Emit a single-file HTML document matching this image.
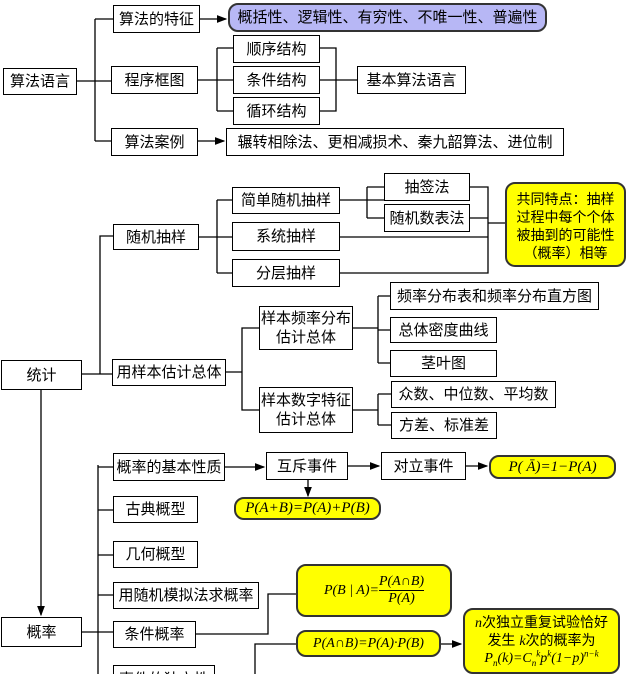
<!DOCTYPE html>
<html><head><meta charset="utf-8"><style>
html,body{margin:0;width:638px;height:674px;overflow:hidden;}
body{background:#fff;position:relative;font-family:"Liberation Sans","Noto Sans CJK SC",sans-serif;}
.b{position:absolute;box-sizing:border-box;border:1.5px solid #000;background:#fff;display:flex;align-items:center;justify-content:center;text-align:center;font-size:15px;line-height:19px;color:#000;}
.y{background:#ffff00;border:2px solid #333;border-radius:10px;font-family:"Liberation Serif","Noto Sans CJK SC",serif;font-style:italic;}
.n{font-style:normal;font-family:"Liberation Sans","Noto Sans CJK SC",sans-serif;}
.p{background:#b7b7f5;border:2px solid #333;border-radius:10px;}
svg{position:absolute;left:0;top:0;}
</style></head><body>
<svg width="638" height="674" stroke="#000" stroke-width="1.3" fill="none">
<defs><marker id="a" markerWidth="8" markerHeight="8" refX="7" refY="4" orient="auto"><path d="M0,1 L8,4 L0,7z" fill="#000" stroke="none"/></marker></defs>
<path d="M77 81H111M95 19V141M95 19H113M95 141H111"/>
<path d="M200 19H226" marker-end="url(#a)"/>
<path d="M198 141H224" marker-end="url(#a)"/>
<path d="M198 80H233M217 48V111M217 48H233M217 111H233"/>
<path d="M320 48H336V111H320M320 80H357"/>
<path d="M82 374H100V236H113M100 374H112"/>
<path d="M199 237H232M217 200V273M217 200H232M217 273H232"/>
<path d="M340 200H384M367 187V218M367 187H384M367 218H384"/>
<path d="M470 187H488V273H340M470 218H488M340 237H488M488 223H505"/>
<path d="M226 372H242V328H259M242 328V410H259"/>
<path d="M353 328H378M378 296V363M378 296H390M378 330H390M378 363H390"/>
<path d="M353 410H378M378 394V425M378 394H391M378 425H391"/>
<path d="M41 389V615" marker-end="url(#a)"/>
<path d="M82 632H113M98 465V674M98 467H113M98 510H113M98 555H113M98 595H113"/>
<path d="M225 467H264" marker-end="url(#a)"/>
<path d="M348 466H379" marker-end="url(#a)"/>
<path d="M466 466H487" marker-end="url(#a)"/>
<path d="M308 480V496" marker-end="url(#a)"/>
<path d="M196 634H268V594H296"/>
<path d="M255 674V644H296"/>
<path d="M441 644H461" marker-end="url(#a)"/>
</svg>
<div class="b" style="left:3px;top:68px;width:74px;height:27px">算法语言</div>
<div class="b" style="left:113px;top:5px;width:87px;height:28px">算法的特征</div>
<div class="b p" style="left:228px;top:3px;width:319px;height:29px">概括性、逻辑性、有穷性、不唯一性、普遍性</div>
<div class="b" style="left:111px;top:66px;width:87px;height:28px">程序框图</div>
<div class="b" style="left:233px;top:35px;width:87px;height:28px">顺序结构</div>
<div class="b" style="left:233px;top:66px;width:87px;height:28px">条件结构</div>
<div class="b" style="left:233px;top:97px;width:87px;height:28px">循环结构</div>
<div class="b" style="left:357px;top:66px;width:109px;height:28px">基本算法语言</div>
<div class="b" style="left:111px;top:128px;width:87px;height:28px">算法案例</div>
<div class="b" style="left:226px;top:128px;width:338px;height:28px">辗转相除法、更相减损术、秦九韶算法、进位制</div>

<div class="b" style="left:1px;top:360px;width:81px;height:30px">统计</div>
<div class="b" style="left:113px;top:224px;width:86px;height:26px">随机抽样</div>
<div class="b" style="left:232px;top:187px;width:108px;height:27px">简单随机抽样</div>
<div class="b" style="left:232px;top:222px;width:108px;height:29px">系统抽样</div>
<div class="b" style="left:232px;top:259px;width:108px;height:28px">分层抽样</div>
<div class="b" style="left:384px;top:173px;width:86px;height:28px">抽签法</div>
<div class="b" style="left:384px;top:204px;width:86px;height:28px">随机数表法</div>
<div class="b y" style="left:505px;top:182px;width:121px;height:85px;font-style:normal;font-family:'Liberation Sans','Noto Sans CJK SC',sans-serif;line-height:18px;font-size:14px;display:block;padding-top:6px">共同特点：抽样<br>过程中每个个体<br>被抽到的可能性<br>（概率）相等</div>
<div class="b" style="left:112px;top:359px;width:114px;height:27px">用样本估计总体</div>
<div class="b" style="left:259px;top:306px;width:94px;height:44px">样本频率分布<br>估计总体</div>
<div class="b" style="left:259px;top:387px;width:94px;height:46px">样本数字特征<br>估计总体</div>
<div class="b" style="left:390px;top:282px;width:209px;height:28px">频率分布表和频率分布直方图</div>
<div class="b" style="left:390px;top:317px;width:107px;height:26px">总体密度曲线</div>
<div class="b" style="left:390px;top:350px;width:107px;height:27px">茎叶图</div>
<div class="b" style="left:391px;top:381px;width:165px;height:27px">众数、中位数、平均数</div>
<div class="b" style="left:391px;top:412px;width:106px;height:27px">方差、标准差</div>

<div class="b" style="left:1px;top:617px;width:81px;height:30px">概率</div>
<div class="b" style="left:113px;top:453px;width:112px;height:28px">概率的基本性质</div>
<div class="b" style="left:266px;top:452px;width:82px;height:28px">互斥事件</div>
<div class="b" style="left:381px;top:452px;width:85px;height:28px">对立事件</div>
<div class="b y" style="left:489px;top:455px;width:127px;height:24px">P(&nbsp;A&#772;)=1−P(A)</div>
<div class="b y" style="left:234px;top:497px;width:147px;height:23px">P(A+B)=P(A)+P(B)</div>
<div class="b" style="left:113px;top:496px;width:85px;height:27px">古典概型</div>
<div class="b" style="left:113px;top:541px;width:85px;height:27px">几何概型</div>
<div class="b" style="left:113px;top:582px;width:146px;height:27px">用随机模拟法求概率</div>
<div class="b" style="left:113px;top:621px;width:83px;height:27px">条件概率</div>
<div class="b y" style="left:296px;top:564px;width:156px;height:53px;font-size:14px"><span>P(B | A)=</span><span style="display:inline-flex;flex-direction:column;align-items:center;line-height:16px"><span style="border-bottom:1px solid #000">P(A∩B)</span><span>P(A)</span></span></div>
<div class="b y" style="left:296px;top:630px;width:145px;height:27px;font-size:14px">P(A∩B)=P(A)·P(B)</div>
<div class="b y" style="left:463px;top:608px;width:157px;height:66px;line-height:17px;font-size:14px;display:block;padding-top:4px">n<span class="n">次独立重复试验恰好</span><br><span class="n">发生 </span>k<span class="n">次的概率为</span><br>P<sub style="font-size:9px;line-height:0">n</sub>(k)=C<sub style="font-size:9px;line-height:0">n</sub><sup style="font-size:9px;line-height:0">k</sup>p<sup style="font-size:9px;line-height:0">k</sup>(1−p)<sup style="font-size:9px;line-height:0">n−k</sup></div>
<div class="b" style="left:113px;top:665px;width:102px;height:30px;display:block;padding-top:4px">事件的独立性</div>
</body></html>
